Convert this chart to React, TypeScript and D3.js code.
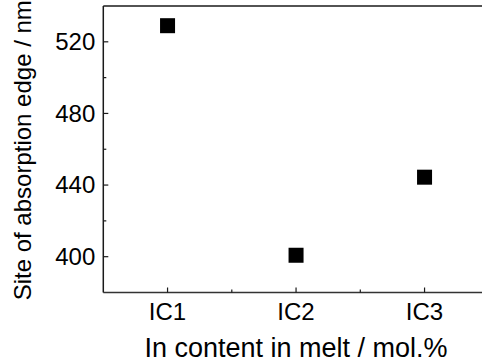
import React from "react";
import * as d3 from "d3";

const categories = ["IC1", "IC2", "IC3"];
const values = [529, 400.8, 444.4];
const yTicks = [400, 440, 480, 520];
const yMinorTicks = [420, 460, 500];
const xLabel = "In content in melt / mol.%";
const yLabel = "Site of absorption edge / nm";

export default function App() {
  const W = 482, H = 363;
  const left = 103.3, top = 6, bottom = 292.5;
  const x = d3.scaleLinear().domain([0.5, 3.5]).range([left, 488.8]);
  const y = d3.scaleLinear().domain([380, 540]).range([bottom, top]);
  const font = "'Liberation Sans', Arial, sans-serif";
  const stroke = "#1a1a1a";
  const xMinor = [1.5, 2.5];
  return (
    <svg width={W} height={H} style={{ position: "absolute", left: 0, top: 0 }} fontFamily={font}>
      <rect x={0} y={0} width={W} height={H} fill="#fff" />
      <line x1={left} x2={W} y1={top} y2={top} stroke={stroke} strokeWidth={1.5} />
      <line x1={left} x2={W} y1={bottom} y2={bottom} stroke="#333" strokeWidth={1.4} />
      <line x1={left} x2={left} y1={top} y2={bottom} stroke={stroke} strokeWidth={1.5} />
      {yTicks.map((t) => (
        <g key={t}>
          <line x1={left} x2={left + 5} y1={y(t)} y2={y(t)} stroke={stroke} strokeWidth={1.2} />
          <text x={left - 8} y={y(t)} dy="0.35em" textAnchor="end" fontSize={24} fill="#000">
            {t}
          </text>
        </g>
      ))}
      {yMinorTicks.map((t) => (
        <line key={t} x1={left} x2={left + 3} y1={y(t)} y2={y(t)} stroke={stroke} strokeWidth={1.2} />
      ))}
      {categories.map((c, i) => (
        <g key={c}>
          <line x1={x(i + 1)} x2={x(i + 1)} y1={bottom} y2={bottom - 5} stroke={stroke} strokeWidth={1.2} />
          <text x={x(i + 1)} y={320} textAnchor="middle" fontSize={24} fill="#000">
            {c}
          </text>
        </g>
      ))}
      {xMinor.map((t) => (
        <line key={t} x1={x(t)} x2={x(t)} y1={bottom} y2={bottom - 3} stroke={stroke} strokeWidth={1.2} />
      ))}
      {values.map((v, i) => (
        <rect key={i} x={x(i + 1) - 7.5} y={y(v) - 7.5} width={15} height={15} fill="#000" />
      ))}
      <text x={296} y={357} textAnchor="middle" fontSize={27} fill="#000">
        {xLabel}
      </text>
      <text
        transform={`translate(31, ${(top + bottom) / 2 + 1}) rotate(-90)`}
        textAnchor="middle"
        fontSize={24}
        fill="#000"
      >
        {yLabel}
      </text>
    </svg>
  );
}
